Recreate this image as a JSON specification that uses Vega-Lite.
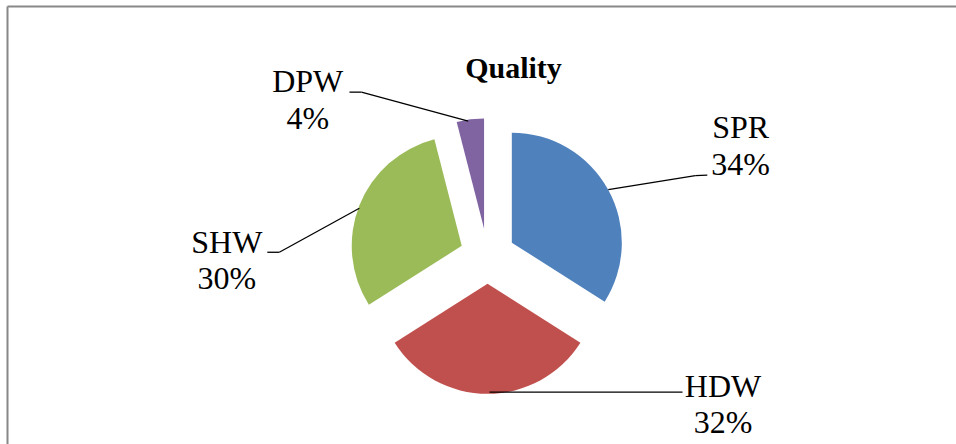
{
  "$schema": "https://vega.github.io/schema/vega-lite/v6.json",
  "width": 956,
  "height": 444,
  "autosize": {"type": "fit", "contains": "padding"},
  "padding": {"left": 7, "top": 6, "right": 0, "bottom": 0},
  "background": "white",
  "config": {"view": {"stroke": null}, "font": "Liberation Serif"},
  "title": {
    "text": "Quality",
    "font": "Liberation Serif",
    "fontSize": 30,
    "fontWeight": "bold",
    "color": "#000000",
    "anchor": "middle",
    "baseline": "alphabetic",
    "offset": -102,
    "dx": 32
  },
  "data": {
    "values": [
      {"label": "SPR", "value": 0.34},
      {"label": "HDW", "value": 0.32},
      {"label": "SHW", "value": 0.30},
      {"label": "DPW", "value": 0.04}
    ]
  },
  "transform": [
    {"window": [{"op": "sum", "field": "value", "as": "end"}], "frame": [null, 0]},
    {"calculate": "datum.end - datum.value", "as": "start"},
    {"calculate": "PI * (datum.start + datum.end)", "as": "mid"},
    {"calculate": "sin(datum.mid)", "as": "ux"},
    {"calculate": "cos(datum.mid)", "as": "uy"}
  ],
  "resolve": {"scale": {"x": "independent", "y": "independent"}, "axis": {"x": "independent", "y": "independent"}},
  "layer": [
    {
      "mark": {"type": "arc", "outerRadius": 110, "innerRadius": 0},
      "encoding": {
        "theta": {"field": "start", "type": "quantitative", "stack": null, "scale": {"domain": [0, 1]}},
        "theta2": {"field": "end"},
        "x": {
          "field": "ux", "type": "quantitative",
          "scale": {"domain": [-17.329, 16.895], "nice": false, "zero": false},
          "axis": {"orient": "top", "labels": false, "ticks": false, "grid": false, "title": null, "domainColor": "#888888", "domainWidth": 2, "minExtent": 0, "maxExtent": 0}
        },
        "y": {
          "field": "uy", "type": "quantitative",
          "scale": {"domain": [-6.769, 9.007], "nice": false, "zero": false},
          "axis": {"orient": "left", "labels": false, "ticks": false, "grid": false, "title": null, "domainColor": "#888888", "domainWidth": 2, "minExtent": 0, "maxExtent": 0}
        },
        "color": {
          "field": "label", "type": "nominal",
          "scale": {"domain": ["SPR", "HDW", "SHW", "DPW"], "range": ["#4F81BD", "#C0504D", "#9BBB59", "#8064A2"]},
          "legend": null
        }
      }
    },
    {
      "encoding": {
        "x": {"field": "ux", "type": "quantitative", "scale": {"domain": [-3.4858, 3.3987], "nice": false, "zero": false}, "axis": null},
        "y": {"field": "uy", "type": "quantitative", "scale": {"domain": [-1.3617, 1.8119], "nice": false, "zero": false}, "axis": null}
      },
      "layer": [
        {
          "transform": [{"filter": "datum.label === 'SPR'"}],
          "layer": [
            {"mark": {"type": "rule", "color": "#000000", "strokeWidth": 1.3, "x2Offset": 87, "y2Offset": -14}, "encoding": {"x2": {"field": "ux"}, "y2": {"field": "uy"}}},
            {"mark": {"type": "rule", "color": "#000000", "strokeWidth": 1.3, "xOffset": 87, "yOffset": -14, "x2Offset": 99, "y2Offset": -14.5}, "encoding": {"x2": {"field": "ux"}, "y2": {"field": "uy"}}},
            {"mark": {"type": "text", "fontSize": 32, "font": "Liberation Serif", "color": "#000000", "align": "center", "baseline": "alphabetic", "dx": 132.3, "dy": -51.2}, "encoding": {"text": {"field": "label"}}},
            {"mark": {"type": "text", "fontSize": 32, "font": "Liberation Serif", "color": "#000000", "align": "center", "baseline": "alphabetic", "dx": 132.3, "dy": -14.2}, "encoding": {"text": {"field": "value", "type": "quantitative", "format": ".0%"}}}
          ]
        },
        {
          "transform": [{"filter": "datum.label === 'HDW'"}],
          "layer": [
            {"mark": {"type": "rule", "color": "#000000", "strokeWidth": 1.3, "xOffset": 2, "yOffset": -2, "x2Offset": 195, "y2Offset": -2}, "encoding": {"x2": {"field": "ux"}, "y2": {"field": "uy"}}},
            {"mark": {"type": "text", "fontSize": 32, "font": "Liberation Serif", "color": "#000000", "align": "center", "baseline": "alphabetic", "dx": 235.5, "dy": 2.8}, "encoding": {"text": {"field": "label"}}},
            {"mark": {"type": "text", "fontSize": 32, "font": "Liberation Serif", "color": "#000000", "align": "center", "baseline": "alphabetic", "dx": 235.5, "dy": 38.8}, "encoding": {"text": {"field": "value", "type": "quantitative", "format": ".0%"}}}
          ]
        },
        {
          "transform": [{"filter": "datum.label === 'SHW'"}],
          "layer": [
            {"mark": {"type": "rule", "color": "#000000", "strokeWidth": 1.3, "yOffset": 3, "x2Offset": -80, "y2Offset": 47}, "encoding": {"x2": {"field": "ux"}, "y2": {"field": "uy"}}},
            {"mark": {"type": "rule", "color": "#000000", "strokeWidth": 1.3, "xOffset": -80, "yOffset": 47, "x2Offset": -92, "y2Offset": 47}, "encoding": {"x2": {"field": "ux"}, "y2": {"field": "uy"}}},
            {"mark": {"type": "text", "fontSize": 32, "font": "Liberation Serif", "color": "#000000", "align": "center", "baseline": "alphabetic", "dx": -132.5, "dy": 48.2}, "encoding": {"text": {"field": "label"}}},
            {"mark": {"type": "text", "fontSize": 32, "font": "Liberation Serif", "color": "#000000", "align": "center", "baseline": "alphabetic", "dx": -132.5, "dy": 84.2}, "encoding": {"text": {"field": "value", "type": "quantitative", "format": ".0%"}}}
          ]
        },
        {
          "transform": [{"filter": "datum.label === 'DPW'"}],
          "layer": [
            {"mark": {"type": "rule", "color": "#000000", "strokeWidth": 1.3, "xOffset": -2, "yOffset": 2, "x2Offset": -108.75, "y2Offset": -27}, "encoding": {"x2": {"field": "ux"}, "y2": {"field": "uy"}}},
            {"mark": {"type": "rule", "color": "#000000", "strokeWidth": 1.3, "xOffset": -108.75, "yOffset": -27, "x2Offset": -120.75, "y2Offset": -27}, "encoding": {"x2": {"field": "ux"}, "y2": {"field": "uy"}}},
            {"mark": {"type": "text", "fontSize": 32, "font": "Liberation Serif", "color": "#000000", "align": "center", "baseline": "alphabetic", "dx": -162.5, "dy": -26.9}, "encoding": {"text": {"field": "label"}}},
            {"mark": {"type": "text", "fontSize": 32, "font": "Liberation Serif", "color": "#000000", "align": "center", "baseline": "alphabetic", "dx": -162.5, "dy": 10.1}, "encoding": {"text": {"field": "value", "type": "quantitative", "format": ".0%"}}}
          ]
        }
      ]
    }
  ]
}
